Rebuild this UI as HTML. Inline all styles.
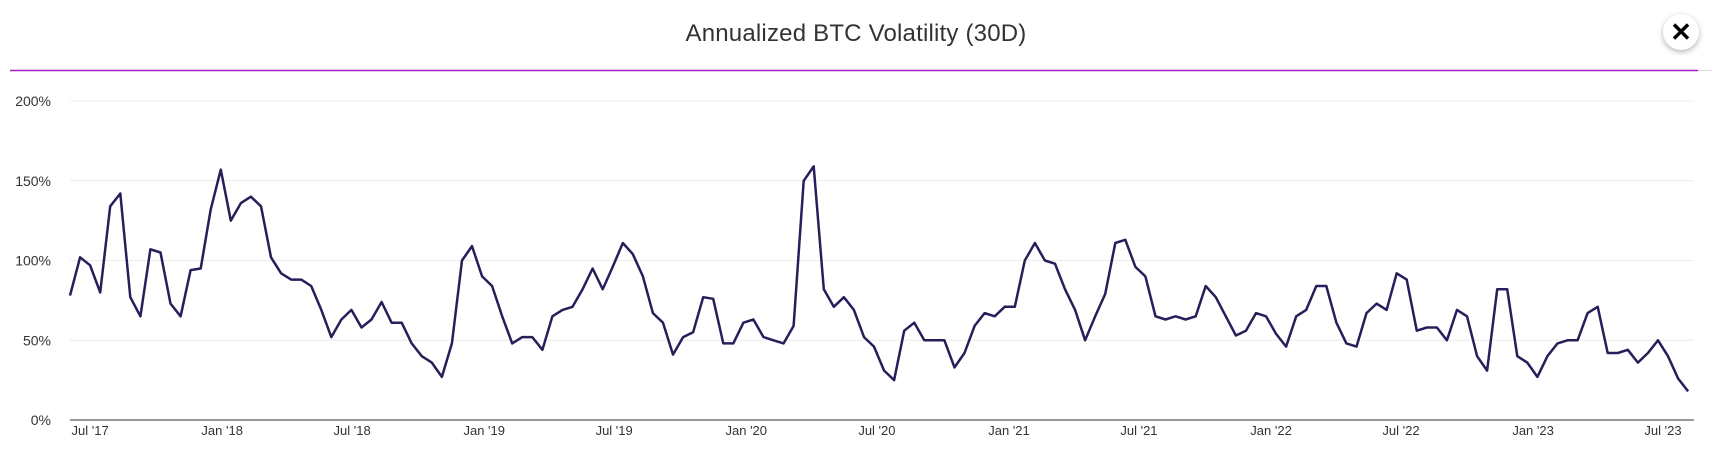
<!DOCTYPE html>
<html><head><meta charset="utf-8">
<style>
body{margin:0;background:#fff;width:1712px;height:456px;overflow:hidden;font-family:"Liberation Sans",sans-serif;}
#wrap{position:relative;width:1712px;height:456px;}
#title{position:absolute;left:0;top:20px;width:1712px;text-align:center;font-size:24px;color:#333;letter-spacing:0.2px;}
#close{position:absolute;left:1663px;top:14px;width:36px;height:36px;border-radius:50%;background:#fff;box-shadow:0 2px 6px rgba(0,0,0,0.3);text-align:center;line-height:36px;font-size:26px;font-weight:bold;color:#000;}
svg{position:absolute;left:0;top:0;}
</style></head>
<body>
<div id="wrap">
<div id="title">Annualized BTC Volatility (30D)</div>
<div id="close">✕</div>
<svg id="chart" width="1712" height="456"></svg>
</div>
<script>
const startDate = "2017-06-03";
const stepDays = 14;
const volValues = [78,102,97,80,134,142,77,65,107,105,73,65,94,95,132,157,125,136,140,134,102,92,88,88,84,69,52,63,69,58,63,74,61,61,48,40,36,27,48,100,109,90,84,65,48,52,52,44,65,69,71,82,95,82,96,111,104,90,67,61,41,52,55,77,76,48,48,61,63,52,50,48,59,150,159,82,71,77,69,52,46,31,25,56,61,50,50,50,33,42,59,67,65,71,71,100,111,100,98,82,69,50,65,79,111,113,96,90,65,63,65,63,65,84,77,65,53,56,67,65,54,46,65,69,84,84,61,48,46,67,73,69,92,88,56,58,58,50,69,65,40,31,82,82,40,36,27,40,48,50,50,67,71,42,42,44,36,42,50,40,26,18];
const yTicks = [0,50,100,150,200];
const yTickLabels = ["0%","50%","100%","150%","200%"];
const xTickDates = ["2017-07-01","2018-01-01","2018-07-01","2019-01-01","2019-07-01","2020-01-01","2020-07-01","2021-01-01","2021-07-01","2022-01-01","2022-07-01","2023-01-01","2023-07-01"];
const xTickLabels = ["Jul '17","Jan '18","Jul '18","Jan '19","Jul '19","Jan '20","Jul '20","Jan '21","Jul '21","Jan '22","Jul '22","Jan '23","Jul '23"];

const NS="http://www.w3.org/2000/svg";
const svg=document.getElementById('chart');
const X0=70, PXDAY=0.7179, Y0=420, PXPCT=1.595;
const t0=Date.parse(startDate);
function xDate(s){return X0+(Date.parse(s)-t0)/86400000*PXDAY;}
function xIdx(i){return X0+i*stepDays*PXDAY;}
function yVal(v){return Y0-v*PXPCT;}
function mk(tag,attrs){const e=document.createElementNS(NS,tag);for(const k in attrs)e.setAttribute(k,attrs[k]);svg.appendChild(e);return e;}

const hdr=mk('line',{x1:10,x2:1698,y1:70.5,y2:70.5,stroke:'#a020c8','stroke-width':1.5});


const hdr2=mk('line',{x1:1698,x2:1712,y1:70.5,y2:70.5,stroke:'#ddd','stroke-width':1});



yTicks.forEach((v,i)=>{
  if(v>0){
    const g=mk('line',{x1:70,x2:1694,y1:yVal(v),y2:yVal(v),stroke:'#ececec','stroke-width':1});
    
    
  }
  const t=mk('text',{x:51,y:yVal(v)+5,'text-anchor':'end','font-size':14,fill:'#333','font-family':'Liberation Sans, sans-serif'});
  t.textContent=yTickLabels[i];
  
  
});
const ax=mk('line',{x1:70,x2:1694,y1:Y0,y2:Y0,stroke:'#333','stroke-width':1});


xTickDates.forEach((d,i)=>{
  const t=mk('text',{x:xDate(d),y:435,'text-anchor':'middle','font-size':13,fill:'#333','font-family':'Liberation Sans, sans-serif'});
  t.textContent=xTickLabels[i];
  
  
});
const pts=volValues.map((v,i)=>xIdx(i).toFixed(1)+','+yVal(v).toFixed(1)).join(' ');
const line=mk('polyline',{points:pts,fill:'none',stroke:'#25205a','stroke-width':2.5,'stroke-linejoin':'round'});


</script>
</body></html>
